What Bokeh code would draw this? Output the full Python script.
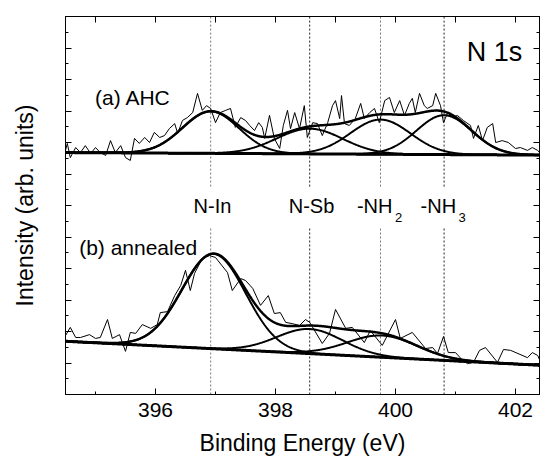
import numpy as np
from bokeh.plotting import figure
from bokeh.models import Range1d, LinearAxis, FixedTicker, Label
from bokeh.embed import file_html
from bokeh.resources import INLINE

# ---------------- data ----------------
# (a) AHC raw spectrum: binding energy (eV), intensity (arb. units)
e_a = [394.50, 394.53, 394.58, 394.67, 394.75, 394.83, 394.92, 395.00, 395.08, 395.17,
       395.25, 395.33, 395.42, 395.50, 395.58, 395.65, 395.73, 395.82, 395.90, 395.98,
       396.07, 396.15, 396.23, 396.32, 396.37, 396.45, 396.53, 396.62, 396.70, 396.78,
       396.85, 396.92, 397.00, 397.08, 397.17, 397.25, 397.33, 397.42, 397.50, 397.57,
       397.65, 397.72, 397.78, 397.82, 397.90, 397.98, 398.07, 398.13, 398.20, 398.25,
       398.32, 398.40, 398.48, 398.53, 398.62, 398.70, 398.78, 398.87, 398.95, 399.00,
       399.07, 399.10, 399.15, 399.23, 399.33, 399.42, 399.48, 399.57, 399.65, 399.73,
       399.82, 399.90, 399.98, 400.07, 400.15, 400.23, 400.28, 400.33, 400.40, 400.48,
       400.53, 400.62, 400.67, 400.75, 400.80, 400.87, 400.95, 401.03, 401.13, 401.25,
       401.30, 401.38, 401.45, 401.53, 401.62, 401.67, 401.78, 401.88, 402.00, 402.08,
       402.20, 402.28, 402.37, 402.40]
i_a = [7.75, 7.97, 7.52, 7.84, 7.68, 7.90, 7.65, 7.84, 7.68, 7.59,
       8.06, 7.68, 7.90, 7.52, 7.43, 8.13, 7.97, 8.16, 8.00, 8.32,
       8.16, 8.22, 8.44, 8.60, 8.29, 8.70, 8.79, 8.95, 9.56, 9.02,
       9.17, 9.08, 8.63, 8.95, 9.02, 9.08, 8.48, 8.79, 8.70, 8.54,
       8.38, 8.63, 8.48, 8.13, 8.86, 8.13, 7.81, 8.54, 9.02, 8.44,
       8.95, 8.44, 9.17, 8.16, 8.63, 8.60, 8.22, 8.63, 9.17, 9.33,
       8.76, 9.49, 8.60, 8.54, 8.76, 9.24, 8.76, 8.95, 9.08, 8.63,
       9.33, 9.43, 8.95, 9.33, 8.86, 9.24, 9.40, 8.95, 9.56, 9.17,
       9.08, 9.17, 9.56, 9.17, 8.63, 8.95, 8.79, 8.86, 8.70, 8.54,
       8.13, 8.54, 8.06, 8.48, 8.60, 8.00, 8.06, 8.00, 7.81, 7.84,
       7.75, 7.84, 7.75, 7.68]

# (b) annealed raw spectrum
e_b = [394.50, 394.58, 394.67, 394.75, 394.90, 395.00, 395.08, 395.20, 395.28, 395.40,
       395.50, 395.58, 395.67, 395.78, 395.92, 396.03, 396.08, 396.20, 396.32, 396.42,
       396.50, 396.58, 396.65, 396.78, 396.90, 397.00, 397.20, 397.28, 397.42, 397.50,
       397.62, 397.75, 397.88, 397.98, 398.08, 398.17, 398.28, 398.40, 398.50, 398.57,
       398.78, 398.90, 399.00, 399.17, 399.28, 399.48, 399.58, 399.78, 400.00, 400.08,
       400.28, 400.50, 400.62, 400.70, 400.80, 400.88, 401.00, 401.12, 401.20, 401.30,
       401.40, 401.50, 401.70, 401.80, 401.92, 402.20, 402.28, 402.37, 402.42]
i_b = [1.87, 2.13, 1.81, 1.81, 1.90, 1.78, 1.81, 2.38, 1.78, 1.90,
       1.37, 1.97, 1.94, 2.22, 2.10, 2.22, 2.60, 2.63, 3.14, 3.46,
       3.94, 3.30, 3.84, 4.32, 4.41, 4.35, 3.87, 3.30, 3.68, 3.62,
       3.37, 2.83, 3.14, 2.57, 2.60, 2.29, 2.25, 2.19, 2.38, 2.29,
       1.62, 1.94, 2.70, 2.10, 2.13, 1.65, 2.03, 1.56, 2.38, 1.78,
       1.97, 1.46, 1.49, 1.30, 1.84, 1.33, 1.33, 1.08, 0.98, 1.02,
       1.40, 1.49, 1.02, 1.43, 1.40, 1.17, 1.33, 1.24, 1.02]

# chemical-state reference positions (eV)
state_names = ["N-In", "N-Sb", "-NH", "-NH"]
state_subs = ["", "", "2", "3"]
state_pos = [396.92, 398.57, 399.75, 400.81]

# fitted Gaussian components: centres (eV), heights, widths (sigma, eV)
a_centers = [396.92, 398.57, 399.75, 400.81]
a_heights = [1.33, 0.80, 1.10, 1.25]
a_sigmas = [0.47, 0.55, 0.50, 0.46]
a_background = [7.68, 7.60]      # linear background at 394.5 and 402.4 eV

b_centers = [396.97, 398.57, 399.78]
b_heights = [3.01, 0.78, 0.69]
b_sigmas = [0.53, 0.55, 0.58]
b_background = [1.69, 0.93]

x_ticks = [396, 398, 400, 402]
bg_ends = [394.5, 402.4]

FONT = "Liberation Sans"

# ---------------- figure ----------------
p = figure(frame_width=474, frame_height=378, output_backend="svg", toolbar_location=None,
           x_range=Range1d(394.5, 402.4), y_range=Range1d(0, 12),
           x_axis_location=None, y_axis_location=None,
           min_border_left=65, min_border_right=2, min_border_top=16, min_border_bottom=60)
p.xgrid.visible = False
p.ygrid.visible = False
p.outline_line_color = "black"
p.outline_line_width = 1
p.background_fill_color = "white"
p.border_fill_color = "white"

y_major = list(range(0, 13))
y_minor = [k + 0.5 for k in range(0, 12)]

def style_axis(ax, labels):
    ax.axis_line_color = "black"
    ax.axis_line_width = 1
    ax.major_tick_in = 6
    ax.major_tick_out = 0
    ax.minor_tick_in = 3
    ax.minor_tick_out = 0
    ax.major_tick_line_color = "black"
    ax.minor_tick_line_color = "black"
    if not labels:
        ax.major_label_text_font_size = "0px"
        ax.major_label_text_color = None
        ax.major_label_standoff = 0

bottom = LinearAxis(ticker=FixedTicker(ticks=x_ticks, minor_ticks=list(range(395, 403))))
style_axis(bottom, True)
bottom.major_label_text_font = FONT
bottom.major_label_text_font_size = "21px"
bottom.major_label_text_color = "black"
bottom.major_label_standoff = 8
bottom.axis_label = "Binding Energy (eV)"
bottom.axis_label_text_font = FONT
bottom.axis_label_text_font_size = "23px"
bottom.axis_label_text_font_style = "normal"
bottom.axis_label_text_color = "black"
bottom.axis_label_standoff = 10
p.add_layout(bottom, "below")

top = LinearAxis(ticker=FixedTicker(ticks=list(range(395, 403)), minor_ticks=[]))
style_axis(top, False)
p.add_layout(top, "above")

left = LinearAxis(ticker=FixedTicker(ticks=y_major, minor_ticks=y_minor))
style_axis(left, False)
left.axis_label = "Intensity (arb. units)"
left.axis_label_text_font = FONT
left.axis_label_text_font_size = "23px"
left.axis_label_text_font_style = "normal"
left.axis_label_text_color = "black"
left.axis_label_standoff = 28
p.add_layout(left, "left")

right = LinearAxis(ticker=FixedTicker(ticks=y_major, minor_ticks=y_minor))
style_axis(right, False)
p.add_layout(right, "right")

# ---------------- vertical reference lines ----------------
n = len(state_pos)
line_cols = ["#777777", "#222222", "#777777", "#222222"]
p.segment(x0=state_pos, x1=state_pos, y0=[6.6] * n, y1=[12] * n,
          line_color=line_cols, line_width=1, line_dash="2 2")
p.segment(x0=state_pos, x1=state_pos, y0=[0] * n, y1=[5.3] * n,
          line_color=line_cols, line_width=1, line_dash="2 2")

# ---------------- fits ----------------
x = np.linspace(394.5, 402.4, 900)

def draw_fit(centers, heights, sigmas, background):
    bg = np.interp(x, bg_ends, background)
    total = bg.copy()
    for c, h, s in zip(centers, heights, sigmas):
        g = h * np.exp(-(x - c) ** 2 / (2 * s * s))
        total += g
        p.line(x, bg + g, line_color="black", line_width=2)
    p.line(x, bg, line_color="black", line_width=3)
    p.line(x, total, line_color="black", line_width=2.5)

draw_fit(a_centers, a_heights, a_sigmas, a_background)
draw_fit(b_centers, b_heights, b_sigmas, b_background)

# raw spectra
p.line(e_a, i_a, line_color="black", line_width=1)
p.line(e_b, i_b, line_color="black", line_width=1)

# ---------------- texts ----------------
def add_text(xv, yv, txt, size, align="center"):
    p.add_layout(Label(x=xv, y=yv, text=txt, text_font=FONT, text_font_size=size,
                       text_align=align, text_baseline="middle", text_color="black"))

add_text(401.65, 10.86, "N 1s", "27px")
add_text(395.625, 9.43, "(a) AHC", "21px")
add_text(395.71, 4.67, "(b) annealed", "21px")
for name, sub, pos in zip(state_names, state_subs, state_pos):
    if sub:
        add_text(pos + 0.2, 6.0, name, "20px", "right")
        add_text(pos + 0.24, 5.62, sub, "13px", "left")
    else:
        add_text(pos + 0.03, 6.0, name, "20px")

open("out.html", "w").write(file_html(p, INLINE))
